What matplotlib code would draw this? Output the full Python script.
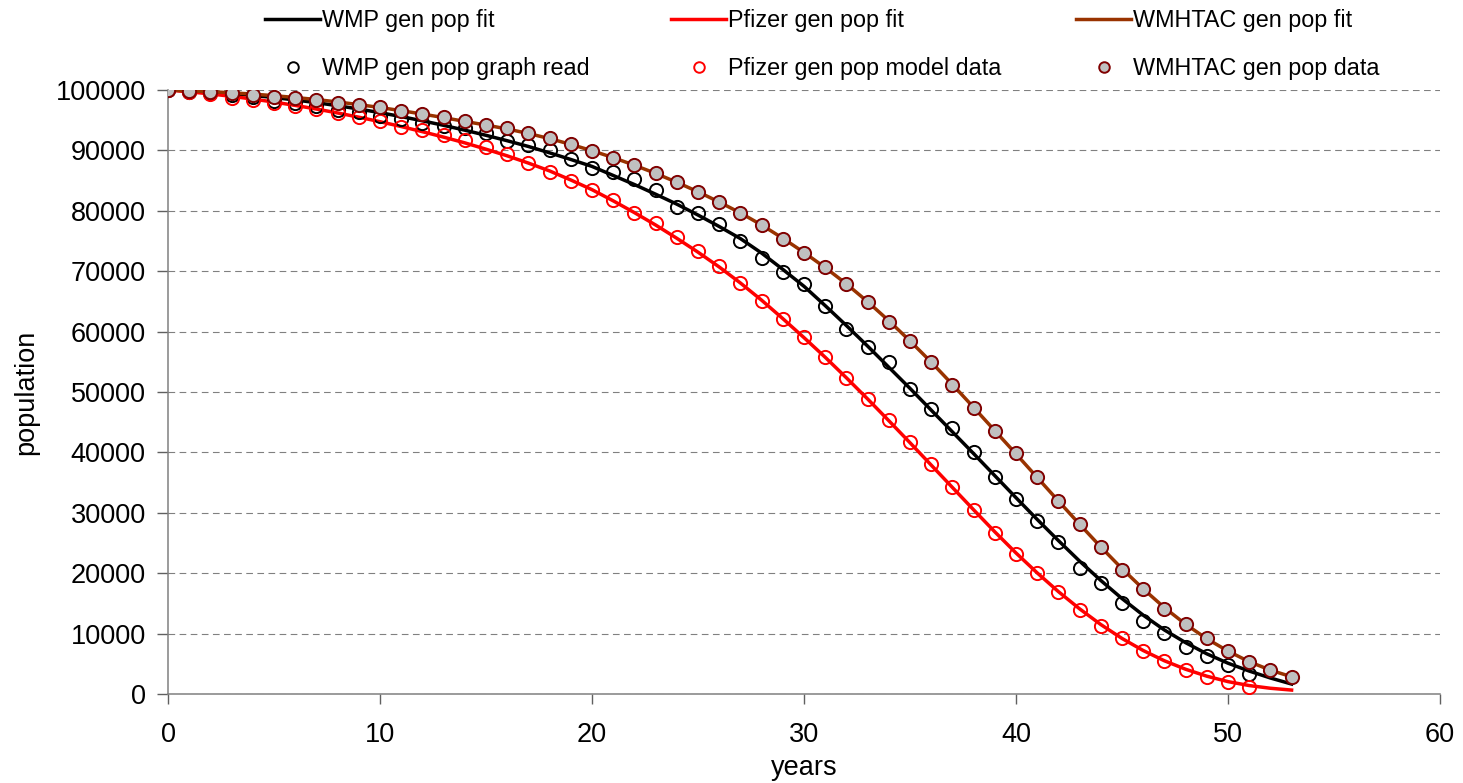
import numpy as np
import matplotlib
matplotlib.use("Agg")
import matplotlib.pyplot as plt
from matplotlib.lines import Line2D

plt.rcParams['font.family'] = ['Liberation Sans', 'DejaVu Sans']

# years for the fit curves and the data points
years_fit = list(range(0, 54))
years_wmp = list(range(0, 52))
years_pfizer = list(range(0, 52))
years_wmhtac = list(range(0, 54))

# fitted curves
wmp_fit = [100000, 99850, 99650, 99400, 99100, 98750, 98350, 97900, 97400, 96850,
           96250, 95600, 94900, 94150, 93350, 92500, 91600, 90650, 89600, 88500,
           87350, 85850, 84350, 82750, 81100, 79300, 77400, 75400, 73000, 70300,
           67500, 64300, 61000, 57600, 54100, 50600, 47000, 43400, 39800, 36150,
           32500, 28900, 25400, 22000, 18800, 15800, 13050, 10600, 8500, 6650,
           5100, 3800, 2650, 1650]
pfizer_fit = [100000, 99700, 99350, 98950, 98500, 98000, 97450, 96850, 96200, 95500,
              94750, 93950, 93100, 92200, 91250, 90200, 89100, 87900, 86600, 85100,
              83500, 81650, 79700, 77650, 75450, 73150, 70700, 68050, 65200, 62150,
              59000, 55750, 52350, 48850, 45250, 41600, 37900, 34200, 30500, 26850,
              23350, 20050, 16950, 14100, 11500, 9200, 7200, 5500, 4100, 2950,
              2050, 1400, 950, 650]
wmhtac_fit = [100000, 99870, 99720, 99540, 99320, 99060, 98760, 98420, 98020, 97580,
              97100, 96580, 96020, 95430, 94800, 94200, 93550, 92800, 91950, 91000,
              89950, 88800, 87550, 86200, 84720, 83150, 81450, 79650, 77650, 75450,
              73100, 70600, 67900, 64950, 61800, 58450, 54950, 51250, 47450, 43600,
              39750, 35850, 31950, 28100, 24350, 20750, 17400, 14300, 11550, 9150,
              7100, 5350, 3950, 2850]

# data points
wmp_read = [100000, 99700, 99500, 99100, 98800, 98200, 97900, 97300, 96700, 96400,
            95700, 95150, 94480, 94040, 93700, 92930, 91610, 90890, 90070, 88520,
            87030, 86480, 85210, 83440, 80570, 79690, 77760, 74950, 72130, 69920,
            67830, 64290, 60380, 57500, 54920, 50550, 47130, 44090, 40120, 35980,
            32230, 28640, 25110, 20810, 18320, 15010, 12140, 10100, 7750, 6290,
            4800, 3310]
pfizer_data = [100000, 99600, 99300, 98700, 98340, 97790, 97350, 96800, 96240, 95580,
               94870, 93900, 93380, 92500, 91720, 90510, 89350, 87960, 86370, 84930,
               83440, 81790, 79690, 77930, 75610, 73340, 70800, 68050, 65120, 62090,
               59050, 55740, 52370, 48790, 45360, 41640, 38080, 34320, 30460, 26700,
               23180, 19980, 16840, 13910, 11260, 9220, 7170, 5460, 4030, 2870,
               2040, 1210]
wmhtac_data = [100000, 99830, 99700, 99450, 99170, 98890, 98620, 98300, 97850, 97520,
               97180, 96600, 96080, 95500, 94850, 94200, 93650, 92830, 92000, 91060,
               89950, 88790, 87580, 86200, 84710, 83160, 81510, 79690, 77600, 75300,
               72960, 70640, 67830, 64850, 61640, 58440, 54920, 51160, 47400, 43600,
               39850, 35980, 32000, 28150, 24390, 20530, 17380, 14150, 11560, 9220,
               7170, 5350, 3970, 2870]

brown = '#993300'

fig = plt.figure(figsize=(14.63, 7.83), dpi=100)
ax = fig.add_axes([168 / 1463, 1 - 694 / 783, 1272 / 1463, 604 / 783])

lw = 2.5
ms = 9.5
mew = 1.4
ax.plot(years_fit, wmp_fit, color='black', lw=lw, zorder=3)
ax.plot(years_fit, pfizer_fit, color='red', lw=lw, zorder=3)
ax.plot(years_fit, wmhtac_fit, color=brown, lw=lw, zorder=3)
ax.plot(years_wmp, wmp_read, ls='none', marker='o', ms=ms, mfc='none',
        mec='black', mew=mew, zorder=4)
ax.plot(years_pfizer, pfizer_data, ls='none', marker='o', ms=ms, mfc='none',
        mec='red', mew=mew, zorder=5)
ax.plot(years_wmhtac, wmhtac_data, ls='none', marker='o', ms=ms, mfc='#C0C0C0',
        mec='#800000', mew=mew, zorder=6)

ax.set_xlim(0, 60)
ax.set_ylim(0, 100000)
ax.set_xticks(range(0, 61, 10))
ax.set_yticks(range(0, 100001, 10000))
ax.yaxis.grid(True, color='#808080', ls=(0, (6, 4)), lw=0.8)
ax.set_axisbelow(True)

for s in ['top', 'right']:
    ax.spines[s].set_visible(False)
for s in ['left', 'bottom']:
    ax.spines[s].set_color('#808080')
    ax.spines[s].set_linewidth(1.1)
ax.tick_params(axis='y', direction='out', length=8, width=1, color='#606060',
               labelsize=19.5, pad=8)
ax.tick_params(axis='x', direction='out', length=7, width=1, color='#606060',
               labelsize=19.5, pad=13)
ax.set_xlabel('years', fontsize=19.5, labelpad=5)
ax.set_ylabel('population', fontsize=19.5, labelpad=12)

# legend: three columns, line on top row and marker on bottom row
cols = [
    ('black', 'none', 'black', 'WMP gen pop fit', 'WMP gen pop graph read', 265),
    ('red', 'none', 'red', 'Pfizer gen pop fit', 'Pfizer gen pop model data', 671),
    (brown, '#C0C0C0', '#800000', 'WMHTAC gen pop fit', 'WMHTAC gen pop data', 1076),
]
for lc, fc, ec, l1, l2, xpx in cols:
    h1 = Line2D([], [], color=lc, lw=lw)
    h2 = Line2D([], [], ls='none', marker='o', ms=ms * 0.8, mfc=fc, mec=ec, mew=mew)
    leg = fig.legend([h1, h2], [l1, l2], loc='upper left',
                     bbox_to_anchor=(xpx / 1463, 1 - 9 / 783),
                     frameon=False, fontsize=16.8, borderpad=0, borderaxespad=0,
                     handlelength=2.36, handletextpad=0.1, labelspacing=1.07)

plt.savefig('out.png', dpi=100)
